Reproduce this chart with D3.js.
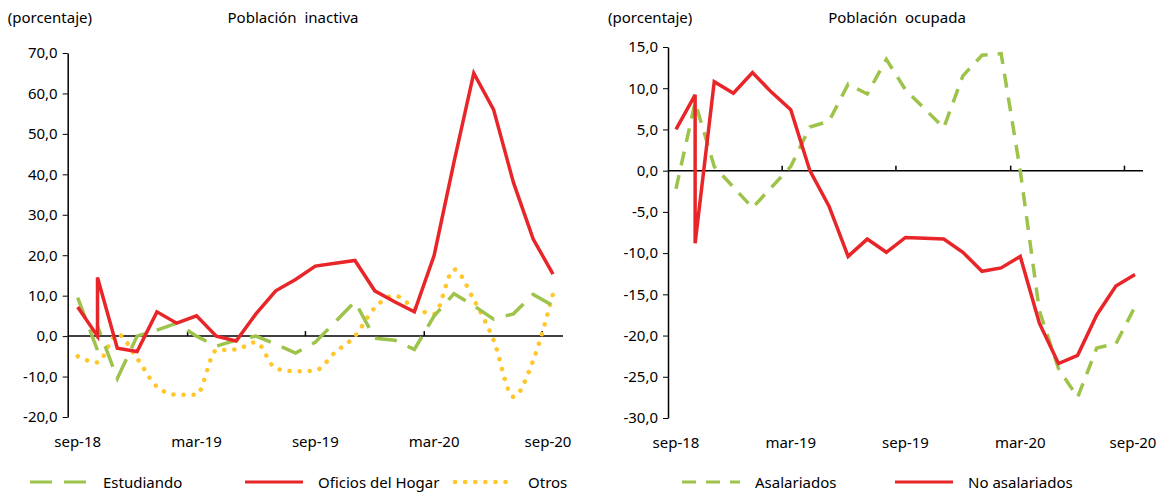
<!DOCTYPE html>
<html><head><meta charset="utf-8">
<script src="https://cdn.jsdelivr.net/npm/d3@7"></script>
<style>body{margin:0;background:#fff}text{font-family:"Noto Sans",sans-serif;fill:#000}</style>
</head><body><svg id="c" width="1167" height="492"></svg>
<script>
// month index, value (index repeated where the source has a double point)
const monthLabels = ["sep-18", "mar-19", "sep-19", "mar-20", "sep-20"];
const labelIdx = [0, 6, 12, 18, 24];
const tickIdx = [5.55, 11.5, 17.5, 23.45];

const estudiando = [[0,9.5],[1,-3.5],[1,2.5],[2,-10.5],[3,0],[4,1.5],[5,3.2],[6,0],[7,-2.5],[8,-1],[9,0],[10,-2],[11,-4.2],[12,-1.5],[13,3.5],[14,8.5],[15,-0.5],[16,-1],[17,-3.3],[18,5],[19,10.5],[20,7.5],[21,4.2],[22,5.5],[23,10.3],[24,7.5]];
const oficios = [[0,7.2],[1,0],[1,14.5],[2,-3],[3,-3.8],[4,6],[5,3.2],[6,5],[7,0],[8,-1.2],[9,5.5],[10,11.2],[11,14],[12,17.3],[13,18],[14,18.7],[15,11.2],[16,8.5],[17,6],[18,20],[19,43],[20,65],[21,56],[22,38],[23,24],[24,15.3]];
const otros = [[0,-5],[1,-6.5],[2,0.5],[3,-5.5],[4,-12.5],[5,-14.5],[6,-14.5],[7,-3.5],[8,-3.3],[9,-1.5],[10,-8],[11,-8.7],[12,-8.5],[13,-4],[14,0],[15,7],[16,10],[17,7],[18,5.5],[19,16.5],[20,9],[21,-1],[22,-15],[23,-6],[24,10.5]];
const asalariados = [[0,-2.2],[1,8.3],[2,0.5],[3,-2],[4,-4.5],[5,-2],[6,0.5],[7,5.3],[8,6],[9,10.5],[10,9.3],[11,13.5],[12,9.8],[13,7.5],[14,5.2],[15,11.5],[16,14],[17,14.2],[18,0],[19,-17],[20,-24],[21,-27.5],[22,-21.5],[23,-21],[24,-16.5]];
const noAsalariados = [[0,5],[1,9.2],[1,-8.8],[2,10.8],[3,9.4],[4,11.9],[5,9.5],[6,7.4],[7,0],[8,-4.3],[9,-10.4],[10,-8.3],[11,-9.9],[12,-8.1],[13,-8.2],[14,-8.3],[15,-9.9],[16,-12.2],[17,-11.8],[18,-10.4],[19,-18.5],[20,-23.4],[21,-22.4],[22,-17.5],[23,-14],[24,-12.6]];

const RED = "#e8262a", GREEN = "#9dc34a", YELLOW = "#ffc72c";
const svg = d3.select("#c");

function panel(o) {
  const x = d3.scaleLinear().domain([0, 24]).range(o.xr);
  const y = d3.scaleLinear().domain(o.yd).range(o.yr);
  const g = svg.append("g");
  // y axis
  g.append("g").attr("transform", `translate(${o.ax},0)`)
    .call(d3.axisLeft(y).tickValues(d3.range(o.yd[0], o.yd[1] + 0.01, o.step))
      .tickFormat(d => d3.format(".1f")(d).replace(".", ",").replace("−", "-")).tickSize(5).tickSizeOuter(0))
    .call(a => a.select(".domain").attr("stroke-width", 1.5))
    .selectAll("text").style("font-size", "15px").attr("dx", "-2");
  // zero line with ticks
  g.append("line").attr("x1", o.ax).attr("x2", o.xend).attr("y1", y(0)).attr("y2", y(0)).attr("stroke", "#000").attr("stroke-width", 1.5);
  g.selectAll(".xt").data(tickIdx).enter().append("line")
    .attr("x1", d => x(d)).attr("x2", d => x(d)).attr("y1", y(0)).attr("y2", y(0) - 5).attr("stroke", "#000").attr("stroke-width", 1.5);
  g.selectAll(".xl").data(monthLabels).enter().append("text")
    .attr("x", (d, i) => x(labelIdx[i]) + (i == 4 ? o.lastShift : 0)).attr("y", o.yr[0] + 30)
    .attr("text-anchor", "middle").style("font-size", "15px").text(d => d);
  g.append("text").attr("x", o.ax - 60).attr("y", 23).style("font-size", "15px").text("(porcentaje)");
  g.append("text").attr("x", o.tx).attr("y", 23).attr("text-anchor", "middle").style("font-size", "15px").attr("xml:space", "preserve").text(o.title);
  o.series.forEach(s => {
    const line = d3.line().x(d => x(d[0])).y(d => y(d[1])).curve(s.curve || d3.curveLinear);
    g.append("path").datum(s.data).attr("d", line).attr("fill", "none")
      .attr("stroke", s.color).attr("stroke-width", s.w).attr("stroke-dasharray", s.dash)
      .attr("stroke-linecap", s.cap || "butt");
  });
  o.legend.forEach(l => {
    g.append("line").attr("x1", l.x).attr("x2", l.x + 58).attr("y1", 482).attr("y2", 482)
      .attr("stroke", l.color).attr("stroke-width", l.w).attr("stroke-dasharray", l.dash).attr("stroke-linecap", l.cap || "butt");
    g.append("text").attr("x", l.x + 73).attr("y", 488).style("font-size", "15px").text(l.name);
  });
}

panel({
  xr: [77.7, 553], yd: [-20, 70], step: 10, yr: [417, 53], ax: 67.7, xend: 563, lastShift: -5,
  tx: 293, title: "Población  inactiva",
  series: [
    {data: otros, color: YELLOW, w: 4.5, dash: "0.1 10", cap: "round", curve: d3.curveMonotoneX},
    {data: estudiando, color: GREEN, w: 3.5, dash: "22 12"},
    {data: oficios, color: RED, w: 3.5, dash: null}
  ],
  legend: [
    {x: 30, name: "Estudiando", color: GREEN, w: 3, dash: "22 12"},
    {x: 245, name: "Oficios del Hogar", color: RED, w: 3, dash: null},
    {x: 455, name: "Otros", color: YELLOW, w: 4.5, dash: "0.1 10", cap: "round"}
  ]
});
panel({
  xr: [676, 1135], yd: [-30, 15], step: 5, yr: [418, 47], ax: 668, xend: 1143, lastShift: -2,
  tx: 897, title: "Población  ocupada",
  series: [
    {data: asalariados, color: GREEN, w: 3.5, dash: "14 10"},
    {data: noAsalariados, color: RED, w: 3.5, dash: null}
  ],
  legend: [
    {x: 682, name: "Asalariados", color: GREEN, w: 3, dash: "14 10"},
    {x: 895, name: "No asalariados", color: RED, w: 3, dash: null}
  ]
});
</script></body></html>
